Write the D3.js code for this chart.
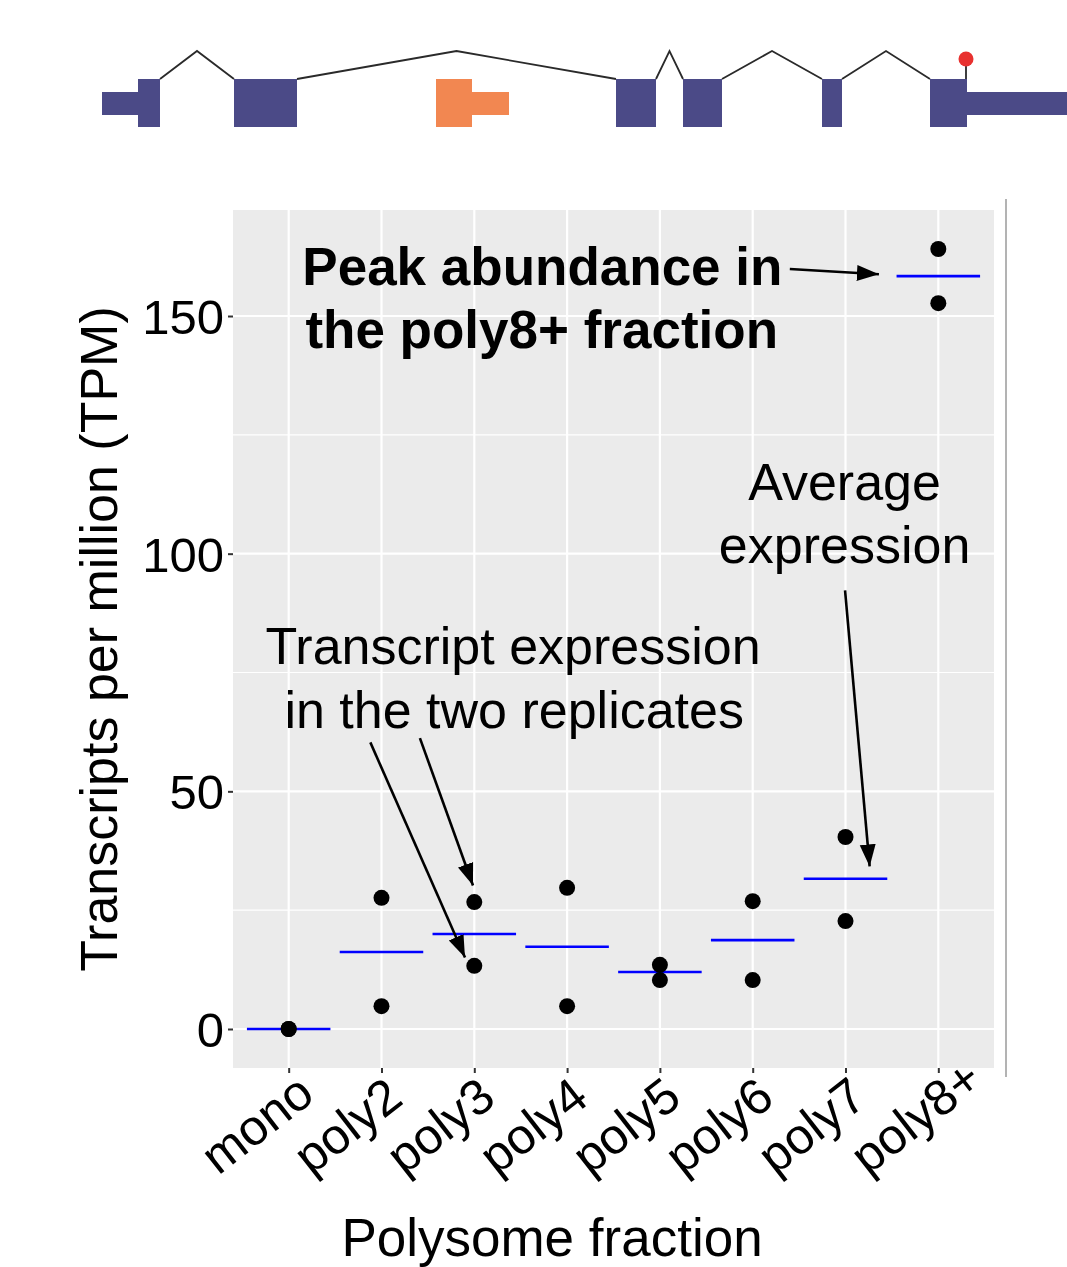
<!DOCTYPE html>
<html><head><meta charset="utf-8">
<script src="https://cdn.jsdelivr.net/npm/d3@7"></script>
<style>
body{margin:0;background:#fff}
svg{display:block}
text{font-family:"Liberation Sans",Arial,Helvetica,sans-serif;fill:#000}
</style>
</head><body>
<svg id="chart" width="1067" height="1267"></svg>
<script>
// ---------------- data ----------------
const categories = ["mono","poly2","poly3","poly4","poly5","poly6","poly7","poly8+"];
const replicate1 = [0, 27.6, 26.7, 29.7, 13.5, 26.9, 40.4, 164.1];
const replicate2 = [0, 4.8, 13.3, 4.8, 10.3, 10.3, 22.7, 152.7];
const averages   = [0, 16.2, 20.0, 17.3, 12.0, 18.7, 31.6, 158.4];
const yTicks = [0, 50, 100, 150];
const yMinorTicks = [25, 75, 125];

// gene model (relative genomic units)
const geneExons = [
  {start:0,   end:36,  kind:"utr",  color:"gene"},
  {start:36,  end:58,  kind:"cds",  color:"gene"},
  {start:132, end:195, kind:"cds",  color:"gene"},
  {start:334, end:370, kind:"cds",  color:"alt"},
  {start:370, end:407, kind:"utr",  color:"alt"},
  {start:514, end:554, kind:"cds",  color:"gene"},
  {start:581, end:620, kind:"cds",  color:"gene"},
  {start:720, end:740, kind:"cds",  color:"gene"},
  {start:828, end:865, kind:"cds",  color:"gene"},
  {start:865, end:965, kind:"utr",  color:"gene"}
];
const geneIntrons = [[58,132],[195,514],[554,581],[620,720],[740,828]];
const stopCodon = 864;

// annotations in data coordinates (x = category index, y = TPM)
const textNotes = [
  {lines:["Peak abundance in","the poly8+ fraction"], x:[0.147,0.18], y:[156.5,143.3], anchor:"start", bold:true, size:53},
  {lines:["Average","expression"], x:[5.99,5.99], y:[111.3,98.0], anchor:"middle", bold:false, size:52},
  {lines:["Transcript expression","in the two replicates"], x:[2.418,2.43], y:[76.7,63.3], anchor:"middle", bold:false, size:52}
];
const arrowNotes = [
  {x1:5.40, y1:159.9, x2:6.36, y2:158.8},
  {x1:5.995, y1:92.3, x2:6.26, y2:34.2},
  {x1:0.88, y1:60.3, x2:1.90, y2:15.05},
  {x1:1.414, y1:61.2, x2:1.986, y2:30.2}
];

// ---------------- layout ----------------
const svg = d3.select("#chart");
const panel = {left:233, right:994, top:210, bottom:1068};

const x = d3.scalePoint().domain(categories).range([panel.left, panel.right]).padding(0.6);
const step = x.step();
const xc = d3.scaleLinear().domain([0, categories.length-1]).range([x(categories[0]), x(categories[categories.length-1])]);

const allVals = replicate1.concat(replicate2);
const yMin = d3.min(allVals), yMax = d3.max(allVals);
const pad = (yMax - yMin) * 0.05;
const y = d3.scaleLinear().domain([yMin - pad, yMax + pad]).range([panel.bottom, panel.top]);

// ---------------- gene model ----------------
const gx = d3.scaleLinear().domain([0, 965]).range([102, 1067]);
const geneColors = {gene:"#4b4a87", alt:"#f28751"};
const thick = {y:79, h:48}, thin = {y:92, h:23};
const apexY = 51;
const g0 = svg.append("g");
g0.selectAll("path.intron").data(geneIntrons).join("path")
  .attr("fill","none").attr("stroke","#2a2a2a").attr("stroke-width",1.8)
  .attr("d", d => `M${gx(d[0])},${thick.y} L${gx((d[0]+d[1])/2)},${apexY} L${gx(d[1])},${thick.y}`);
g0.selectAll("rect.exon").data(geneExons).join("rect")
  .attr("x", d => gx(d.start)).attr("width", d => gx(d.end)-gx(d.start))
  .attr("y", d => d.kind==="cds" ? thick.y : thin.y)
  .attr("height", d => d.kind==="cds" ? thick.h : thin.h)
  .attr("fill", d => geneColors[d.color]);
g0.append("line").attr("x1",gx(stopCodon)).attr("x2",gx(stopCodon)).attr("y1",66).attr("y2",thick.y)
  .attr("stroke","#2a2a2a").attr("stroke-width",1.8);
g0.append("circle").attr("cx",gx(stopCodon)).attr("cy",59).attr("r",7.5).attr("fill","#e8312f");

// ---------------- panel ----------------
svg.append("rect").attr("x",panel.left).attr("y",panel.top)
  .attr("width",panel.right-panel.left).attr("height",panel.bottom-panel.top).attr("fill","#ebebeb");

const grid = svg.append("g");
grid.selectAll("line.minor").data(yMinorTicks).join("line")
  .attr("x1",panel.left).attr("x2",panel.right).attr("y1",d=>y(d)).attr("y2",d=>y(d))
  .attr("stroke","#fff").attr("stroke-width",1.1);
grid.selectAll("line.major").data(yTicks).join("line")
  .attr("x1",panel.left).attr("x2",panel.right).attr("y1",d=>y(d)).attr("y2",d=>y(d))
  .attr("stroke","#fff").attr("stroke-width",2.2);
grid.selectAll("line.vmajor").data(categories).join("line")
  .attr("y1",panel.top).attr("y2",panel.bottom).attr("x1",d=>x(d)).attr("x2",d=>x(d))
  .attr("stroke","#fff").attr("stroke-width",2.2);

// right border line
svg.append("line").attr("x1",1006).attr("x2",1006).attr("y1",199).attr("y2",1077)
  .attr("stroke","#9a9a9a").attr("stroke-width",1.5);

// ---------------- axes ----------------
const yAxis = svg.append("g").attr("transform",`translate(${panel.left},0)`)
  .call(d3.axisLeft(y).tickValues(yTicks).tickSize(5).tickPadding(4));
yAxis.select(".domain").remove();
yAxis.selectAll(".tick line").attr("stroke","#333").attr("stroke-width",2);
yAxis.selectAll(".tick text").attr("font-size",49).attr("fill","#000")
  .attr("font-family","Liberation Sans, Arial, sans-serif").attr("dy","0.36em");

const xAxis = svg.append("g").attr("transform",`translate(0,${panel.bottom})`)
  .call(d3.axisBottom(x).tickSize(5));
xAxis.select(".domain").remove();
xAxis.selectAll(".tick line").attr("stroke","#333").attr("stroke-width",2);
xAxis.selectAll(".tick text")
  .attr("font-size",50).attr("fill","#000").attr("font-family","Liberation Sans, Arial, sans-serif")
  .attr("text-anchor","start").attr("y",0).attr("dy",0)
  .attr("transform","translate(-71,108) rotate(-38)");

// axis titles
svg.append("text").attr("transform",`translate(117,${(panel.top+panel.bottom)/2}) rotate(-90)`)
  .attr("text-anchor","middle").attr("font-size",52).text("Transcripts per million (TPM)");
svg.append("text").attr("x",552).attr("y",1256).attr("text-anchor","middle")
  .attr("font-size",53).text("Polysome fraction");

// ---------------- marks ----------------
const marks = svg.append("g");
marks.selectAll("line.avg").data(categories).join("line")
  .attr("x1",d=>x(d)-0.45*step).attr("x2",d=>x(d)+0.45*step)
  .attr("y1",(d,i)=>y(averages[i])).attr("y2",(d,i)=>y(averages[i]))
  .attr("stroke","#0000ff").attr("stroke-width",2.6);
const pts = categories.flatMap((c,i)=>[{c, v:replicate1[i]},{c, v:replicate2[i]}]);
marks.selectAll("circle.pt").data(pts).join("circle")
  .attr("cx",d=>x(d.c)).attr("cy",d=>y(d.v)).attr("r",8).attr("fill","#000");

// ---------------- annotations ----------------
const defs = svg.append("defs");
defs.append("marker").attr("id","ah").attr("markerUnits","userSpaceOnUse")
  .attr("markerWidth",24).attr("markerHeight",20).attr("viewBox","0 0 24 20")
  .attr("refX",22).attr("refY",10).attr("orient","auto")
  .append("path").attr("d","M0,2 L22,10 L0,18 Z").attr("fill","#000");

svg.append("g").selectAll("line.arrow").data(arrowNotes).join("line")
  .attr("x1",d=>xc(d.x1)).attr("y1",d=>y(d.y1)).attr("x2",d=>xc(d.x2)).attr("y2",d=>y(d.y2))
  .attr("stroke","#000").attr("stroke-width",2.6).attr("marker-end","url(#ah)");

const notes = svg.append("g");
textNotes.forEach(n => {
  n.lines.forEach((ln,k) => {
    notes.append("text").attr("x",xc(n.x[k])).attr("y",y(n.y[k]))
      .attr("text-anchor",n.anchor).attr("font-size",n.size)
      .attr("font-weight", n.bold ? "bold" : "normal").text(ln);
  });
});
</script>
</body></html>
